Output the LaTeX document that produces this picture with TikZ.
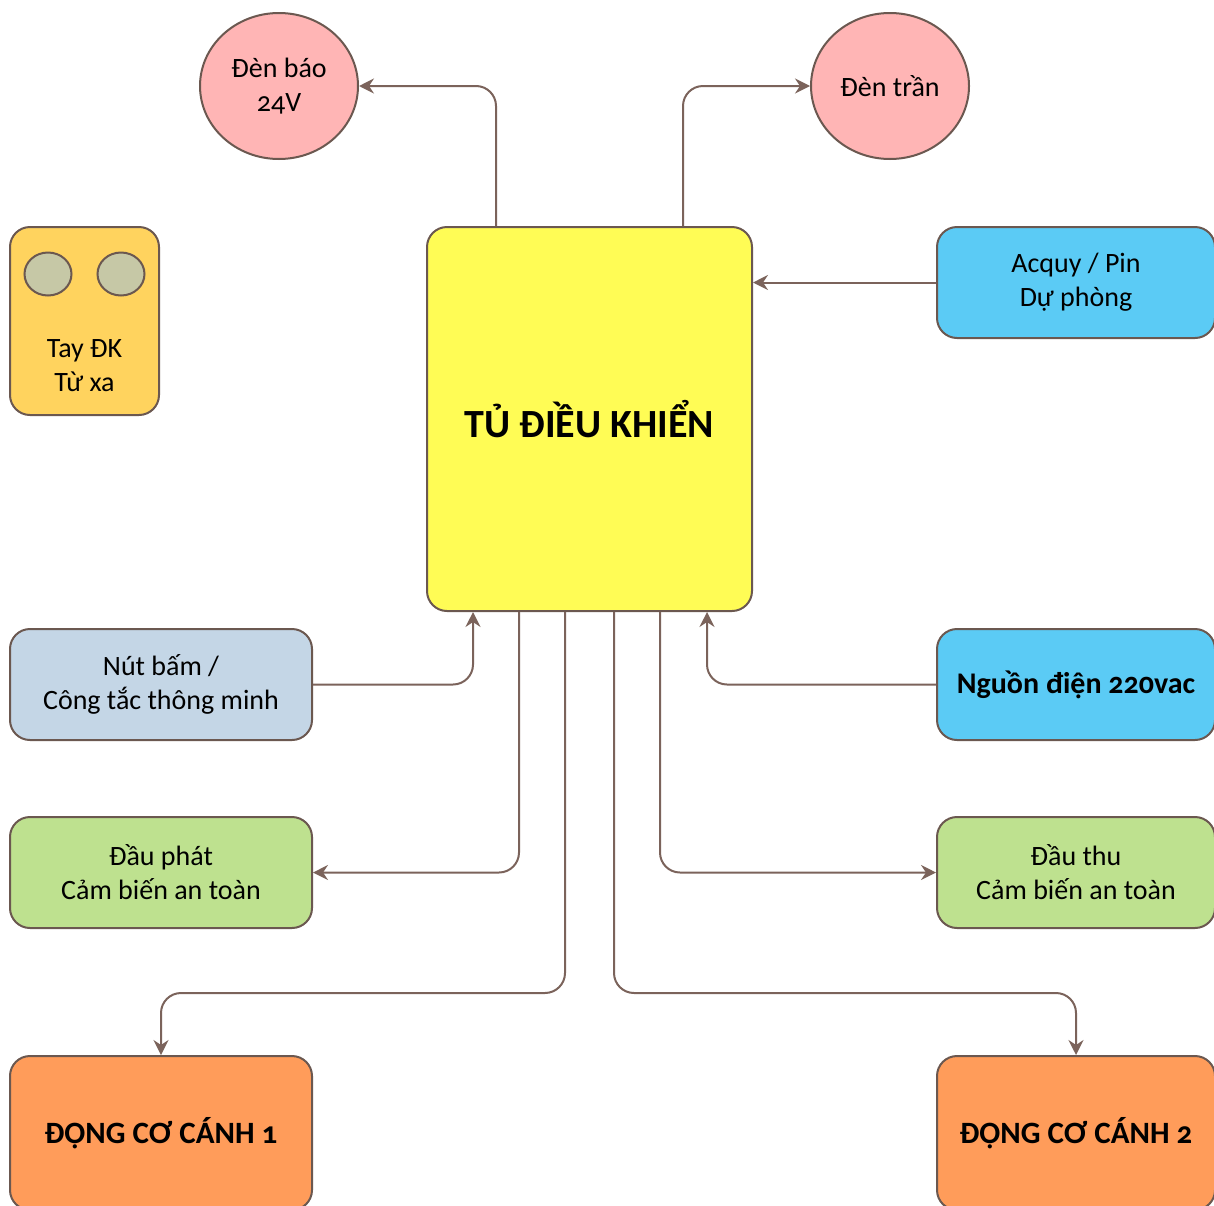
\documentclass[tikz,border=0pt]{standalone}
\usepackage{fontspec}
\setmainfont{Carlito}[Numbers=OldStyle]
\usepackage{xcolor}
\definecolor{EdgeBrown}{HTML}{6B5850}
\definecolor{LinkBrown}{HTML}{7B635B}
\definecolor{LampPink}{HTML}{FFB5B5}
\definecolor{RemoteGold}{HTML}{FFD35E}
\definecolor{KeyGrey}{HTML}{C6C8A6}
\definecolor{CabYellow}{HTML}{FFFC55}
\definecolor{PowerBlue}{HTML}{5BCBF5}
\definecolor{SwitchBlue}{HTML}{C4D6E6}
\definecolor{SensorGreen}{HTML}{BEE18F}
\definecolor{MotorOrange}{HTML}{FF9C5A}
\usepackage{tikz}
\usetikzlibrary{arrows.meta,shapes,positioning}
\newcommand\LeftW{302pt}
\newcommand\RightW{278pt}
\newcommand\BoxH{111pt}
\newcommand\Txt{\fontsize{28}{34}\selectfont}
\newcommand\BigTxt{\fontsize{31}{36}\selectfont\bfseries}
\tikzstyle{lamp}=[ellipse,draw=EdgeBrown,line width=2pt,fill=LampPink,inner sep=0pt,
                     minimum width=158pt,minimum height=146pt,align=center,font=\Txt]
\tikzstyle{unit}=[rectangle,rounded corners=20pt,draw=EdgeBrown,line width=2pt,
                     text centered,align=center,font=\Txt,minimum height=\BoxH]
\tikzstyle{lside}=[unit,minimum width=\LeftW]
\tikzstyle{rside}=[unit,minimum width=\RightW]
\tikzstyle{key}=[ellipse,draw=EdgeBrown,line width=2pt,fill=KeyGrey,
                     minimum width=47pt,minimum height=43pt]
\tikzstyle{link}=[draw=LinkBrown,line width=2pt,rounded corners=20pt,
                     -{Stealth[length=15pt,width=15pt,inset=5pt]}]

\begin{document}
\begin{tikzpicture}[x=1pt,y=-1pt]
      \useasboundingbox (0,0) rectangle (1214,1205);
      \node[lamp] (denbao) at (279,86) {Đèn báo\\24V};
      \node[lamp] (dentran) at (890,86) {Đèn trần};
      \node[unit,fill=RemoteGold,minimum width=149pt,minimum height=188pt] (tay) at (84.5,321) {};
      \node[key] (keyA) at (48,274) {};
      \node[key] (keyB) at (121,274) {};
      \node[font=\Txt,align=center] (taytext) at (84.5,366) {Tay ĐK\\Từ xa};
      \node[unit,fill=CabYellow,minimum width=325pt,minimum height=384pt,
            font=\fontsize{40}{46}\selectfont\bfseries] (tu) at (589.5,419) {TỦ ĐIỀU KHIỂN};
      \node[rside,fill=PowerBlue] (acquy) at (1076,282.5) {Acquy / Pin\\Dự phòng};
      \node[lside,fill=SwitchBlue] (nutbam) at (161,684.5) {Nút bấm /\\Công tắc thông minh};
      \node[rside,fill=PowerBlue,font=\fontsize{30}{36}\selectfont\bfseries] (nguon) at (1076,684.5) {Nguồn điện 220vac};
      \node[lside,fill=SensorGreen] (dauphat) at (161,872.5) {Đầu phát\\Cảm biến an toàn};
      \node[rside,fill=SensorGreen] (dauthu) at (1076,872.5) {Đầu thu\\Cảm biến an toàn};
      \node[lside,fill=MotorOrange,minimum height=154pt,font=\BigTxt] (dongco1) at (161,1133) {ĐỘNG CƠ CÁNH 1};
      \node[rside,fill=MotorOrange,minimum height=154pt,font=\BigTxt] (dongco2) at (1076,1133) {ĐỘNG CƠ CÁNH 2};
      \draw[link] ([xshift=70pt]tu.north west) |- (denbao);
      \draw[link] ([xshift=-70pt]tu.north east) |- (dentran);
      \draw[link] (acquy.west) -- (tu.east |- acquy.west);
      \draw[link] (nutbam.east) -| ([xshift=47pt]tu.south west);
      \draw[link] (nguon.west) -| ([xshift=-46pt]tu.south east);
      \draw[link] ([xshift=93pt]tu.south west) |- (dauphat.east);
      \draw[link] ([xshift=-93pt]tu.south east) |- (dauthu.west);
      \draw[link] ([xshift=139pt]tu.south west) -- ++(0,381) -| (dongco1.north);
      \draw[link] ([xshift=-139pt]tu.south east) -- ++(0,381) -| (dongco2.north);
   \end{tikzpicture}
\end{document}
